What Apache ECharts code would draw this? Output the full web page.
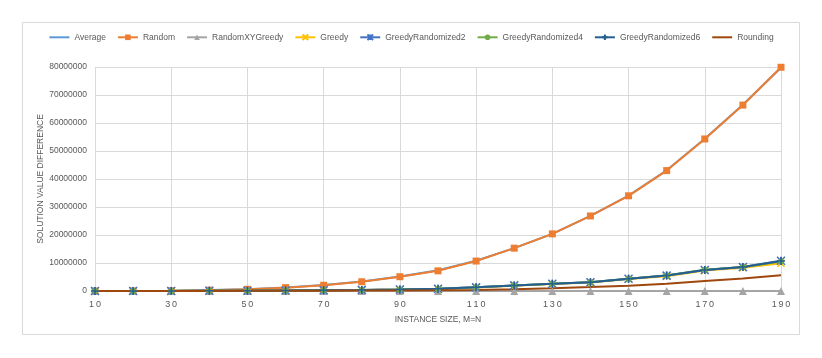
<!DOCTYPE html>
<html>
<head>
<meta charset="utf-8">
<script src="https://cdn.jsdelivr.net/npm/echarts@6/dist/echarts.min.js"></script>
<style>
  html, body { margin: 0; padding: 0; background: #fff; }
  #chart { width: 822px; height: 358px; }
</style>
</head>
<body>
<div id="chart"></div>
<script>
// instance sizes (M = N)
var sizes = ['10','20','30','40','50','60','70','80','90','100','110','120','130','140','150','160','170','180','190'];

// values
var average        = [0, 40000, 120000, 320000, 650000, 1250000, 2150000, 3400000, 5200000, 7400000, 10800000, 15300000, 20400000, 26800000, 34100000, 43100000, 54400000, 66500000, 79700000];
var random         = [0, 30000, 100000, 300000, 600000, 1200000, 2050000, 3300000, 5100000, 7200000, 10700000, 15300000, 20400000, 26800000, 34000000, 43000000, 54300000, 66400000, 79900000];
var randomXYGreedy = [0, 0, 0, 0, 0, 0, 0, 0, 0, 0, 0, 0, 0, 0, 0, 0, 0, 0, 0];
var greedy         = [0, 10000, 30000, 60000, 110000, 180000, 270000, 380000, 520000, 750000, 1250000, 1900000, 2500000, 3000000, 4300000, 5300000, 7300000, 8300000, 9900000];
var greedyRand2    = [0, 10000, 30000, 60000, 120000, 190000, 290000, 400000, 550000, 800000, 1300000, 2000000, 2600000, 3100000, 4400000, 5500000, 7500000, 8600000, 10800000];
var greedyRand4    = [0, 10000, 30000, 60000, 120000, 190000, 290000, 400000, 550000, 800000, 1300000, 2000000, 2600000, 3100000, 4400000, 5500000, 7600000, 8600000, 10500000];
var greedyRand6    = [0, 10000, 30000, 60000, 120000, 190000, 290000, 400000, 550000, 800000, 1300000, 2000000, 2600000, 3100000, 4400000, 5500000, 7500000, 8600000, 10700000];
var rounding       = [0, 5000, 15000, 30000, 50000, 80000, 110000, 150000, 190000, 250000, 400000, 650000, 1000000, 1400000, 1900000, 2600000, 3600000, 4500000, 5600000];

var yTicks = { min: 0, max: 80000000, interval: 10000000 };

var textColor = '#595959';
var gridColor = '#D9D9D9';

// stroke-only marker shapes
var xMark = 'path://M0,0L10,10M10,0L0,10';
var starMark = 'path://M0,0L10,10M10,0L0,10M5,0L5,10';
var plusMark = 'path://M5,0L5,10M0,5L10,5';

function mkSeries(name, data, color, symbol, size, extra) {
  var s = {
    name: name,
    type: 'line',
    data: data,
    symbol: symbol,
    symbolSize: size,
    showSymbol: symbol !== 'none',
    lineStyle: { color: color, width: 2 },
    itemStyle: { color: color, borderColor: color, borderWidth: 0 },
    emphasis: { disabled: true },
    animation: false
  };
  if (extra) Object.assign(s.itemStyle, extra);
  return s;
}

var chart = echarts.init(document.getElementById('chart'));

var hideMark = { color: 'rgba(0,0,0,0)', borderWidth: 0 };

chart.setOption({
  backgroundColor: '#fff',
  animation: false,
  graphic: [{
    type: 'rect',
    shape: { x: 22.5, y: 22.5, width: 777, height: 312 },
    style: { fill: 'none', stroke: '#D9D9D9', lineWidth: 1 },
    silent: true,
    z: -1
  }],
  legend: {
    top: 27,
    left: 'center',
    itemGap: 11,
    itemWidth: 20,
    itemHeight: 7,
    textStyle: { color: textColor, fontSize: 8.5, fontFamily: 'Liberation Sans' },
    data: [
      { name: 'Average', itemStyle: hideMark },
      'Random', 'RandomXYGreedy', 'Greedy', 'GreedyRandomized2', 'GreedyRandomized4', 'GreedyRandomized6',
      { name: 'Rounding', itemStyle: hideMark }
    ]
  },
  grid: { left: 95, right: 41, top: 67, bottom: 67, containLabel: false },
  xAxis: {
    type: 'category',
    data: sizes,
    boundaryGap: false,
    name: 'INSTANCE SIZE, M=N',
    nameLocation: 'middle',
    nameGap: 24,
    nameMoveOverlap: false,
    nameTextStyle: { color: textColor, fontSize: 8.5, fontFamily: 'Liberation Sans' },
    axisLine: { lineStyle: { color: '#BFBFBF', width: 1 } },
    axisTick: { show: false },
    axisLabel: { interval: 1, color: textColor, fontSize: 9, margin: 9, fontFamily: 'Liberation Sans',
      formatter: function (v) { return v.split('').join('\u2009'); } },
    splitLine: { show: true, interval: 1, lineStyle: { color: gridColor, width: 1 } }
  },
  yAxis: {
    type: 'value',
    min: yTicks.min,
    max: yTicks.max,
    interval: yTicks.interval,
    name: 'SOLUTION VALUE DIFFERENCE',
    nameLocation: 'middle',
    nameGap: 50,
    nameMoveOverlap: false,
    nameTextStyle: { color: textColor, fontSize: 8.5, fontFamily: 'Liberation Sans' },
    axisLine: { show: false },
    axisTick: { show: false },
    axisLabel: { color: textColor, fontSize: 8.5, margin: 8, fontFamily: 'Liberation Sans',
      formatter: function (v) { return String(v); } },
    splitLine: { lineStyle: { color: gridColor, width: 1 } }
  },
  series: [
    mkSeries('Average', average, '#5B9BD5', 'none', 0),
    mkSeries('Random', random, '#ED7D31', 'rect', 7),
    mkSeries('RandomXYGreedy', randomXYGreedy, '#A5A5A5', 'triangle', 8),
    mkSeries('Greedy', greedy, '#FFC000', xMark, 7, { color: 'none', borderWidth: 1.5 }),
    mkSeries('GreedyRandomized2', greedyRand2, '#4472C4', starMark, 8, { color: 'none', borderWidth: 1.5 }),
    mkSeries('GreedyRandomized4', greedyRand4, '#70AD47', 'circle', 6),
    mkSeries('GreedyRandomized6', greedyRand6, '#255E91', plusMark, 8, { color: 'none', borderWidth: 1.5 }),
    mkSeries('Rounding', rounding, '#9E480E', 'none', 0)
  ]
});
</script>
</body>
</html>
